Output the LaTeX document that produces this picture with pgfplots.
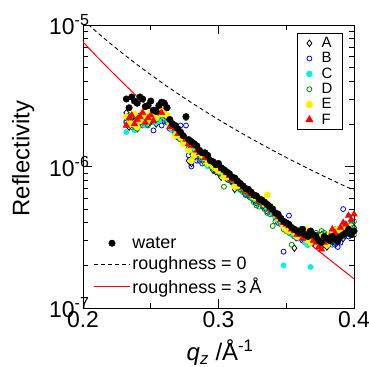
\documentclass[border=0pt]{standalone}
\usepackage{fontspec}
\setmainfont{Liberation Sans}
\usepackage{pgfplots}
\usepackage{pgfplotstable}
\pgfplotsset{compat=1.18}
\definecolor{cyanc}{RGB}{0,240,240}
\definecolor{greenc}{RGB}{0,140,0}
\definecolor{yellowc}{RGB}{255,240,0}
\definecolor{bluec}{RGB}{0,0,255}
\definecolor{redc}{RGB}{255,0,0}

\pgfplotstableread{
q W A B C D E F
0.232 30e-7 24e-7 20.5e-7 17.5e-7 21e-7 22.5e-7 19.5e-7
0.234 26e-7 19e-7 22.5e-7 20.5e-7 23e-7 20e-7 22e-7
0.236 31e-7 22e-7 21e-7 20e-7 19e-7 20e-7 23e-7
0.238 29e-7 23e-7 19e-7 18e-7 21.5e-7 23.5e-7 20e-7
0.240 28e-7 18.5e-7 22e-7 21e-7 18.5e-7 19e-7 21.5e-7
0.242 31e-7 20.5e-7 23e-7 22e-7 19.5e-7 21e-7 22.5e-7
0.244 30e-7 21e-7 19.5e-7 23e-7 21e-7 24e-7 24e-7
0.246 26.5e-7 22.5e-7 20e-7 19.5e-7 22e-7 22.5e-7 20.5e-7
0.248 27e-7 20e-7 22e-7 21.5e-7 19.5e-7 21e-7 22e-7
0.250 29e-7 21e-7 21.5e-7 23e-7 20.5e-7 24e-7 23e-7
0.252 25e-7 23.5e-7 18e-7 22e-7 24e-7 23e-7 21e-7
0.254 24.5e-7 20e-7 23e-7 20.5e-7 21.5e-7 22e-7 25e-7
0.256 27e-7 22e-7 24e-7 21e-7 22.5e-7 25e-7 27e-7
0.258 28.5e-7 23e-7 19.5e-7 22.5e-7 24.5e-7 23.5e-7 24e-7
0.260 28e-7 24e-7 21e-7 24e-7 23e-7 25.5e-7 28e-7
0.262 26e-7 22e-7 20.5e-7 21e-7 21e-7 23e-7 26.5e-7
0.264 21.5e-7 20e-7 18.5e-7 19e-7 20.5e-7 20e-7 19e-7
0.266 20e-7 18.5e-7 19.5e-7 18e-7 19e-7 19e-7 20.5e-7
0.268 19.5e-7 17.5e-7 17e-7 18e-7 17.5e-7 16.5e-7 18.5e-7
0.270 18.5e-7 16.5e-7 16e-7 17.5e-7 16.5e-7 17.5e-7 17e-7
0.272 17.5e-7 16e-7 19.5e-7 16.5e-7 15.5e-7 16e-7 17e-7
0.274 16.5e-7 15.5e-7 15e-7 15e-7 16e-7 14.5e-7 16.5e-7
0.276 22.5e-7 15e-7 19.5e-7 15.5e-7 22e-7 22.5e-7 15.5e-7
0.278 15.5e-7 11e-7 12e-7 14e-7 13.5e-7 13e-7 14.5e-7
0.280 15e-7 10.5e-7 10e-7 13e-7 12.5e-7 11e-7 14e-7
0.282 14.5e-7 13e-7 11.5e-7 12.5e-7 12e-7 12e-7 14e-7
0.284 14e-7 12.5e-7 11e-7 12e-7 12e-7 13e-7 13e-7
0.286 13e-7 12e-7 11e-7 12e-7 11.5e-7 12.5e-7 12.5e-7
0.288 12.5e-7 11.5e-7 10.5e-7 11.5e-7 11e-7 12e-7 12.5e-7
0.290 12.5e-7 11e-7 11.5e-7 11e-7 10.5e-7 11.5e-7 11.5e-7
0.292 12e-7 10.5e-7 11e-7 10e-7 11.5e-7 10.5e-7 11.5e-7
0.294 11e-7 10.5e-7 10e-7 10.5e-7 10.2e-7 10.8e-7 11.2e-7
0.296 10.8e-7 9.4e-7 9.8e-7 10.5e-7 9.5e-7 10e-7 10.8e-7
0.298 10.3e-7 9.2e-7 9.5e-7 9.8e-7 9.6e-7 9.7e-7 10.5e-7
0.300 10.5e-7 9e-7 9.2e-7 9.5e-7 9.6e-7 9.3e-7 10.2e-7
0.302 9.8e-7 8.4e-7 9.1e-7 8.8e-7 8.9e-7 9.4e-7 9.6e-7
0.304 9.5e-7 8.5e-7 8.6e-7 9e-7 7.2e-7 8.4e-7 9.4e-7
0.306 9.2e-7 8.2e-7 8.5e-7 8.7e-7 8.3e-7 8.4e-7 9e-7
0.308 8.9e-7 8.2e-7 8e-7 8.5e-7 8e-7 8.4e-7 8.6e-7
0.310 8.4e-7 7.9e-7 7.8e-7 8.1e-7 7.7e-7 8.3e-7 8.2e-7
0.312 8.3e-7 6.9e-7 7.5e-7 7.8e-7 7.4e-7 7.2e-7 8e-7
0.314 7.9e-7 7.4e-7 7.2e-7 7.6e-7 7.1e-7 7.3e-7 7.8e-7
0.316 7.6e-7 7e-7 7.2e-7 6.8e-7 6.9e-7 7.4e-7 7.5e-7
0.318 7.3e-7 6.8e-7 7e-7 7.1e-7 6.6e-7 7.2e-7 7.1e-7
0.320 7e-7 6.6e-7 6.3e-7 6.5e-7 6.4e-7 6.9e-7 6.8e-7
0.322 6.9e-7 6.2e-7 6.5e-7 6.4e-7 6.3e-7 6.8e-7 6.6e-7
0.324 6.6e-7 6.1e-7 6.4e-7 6e-7 6e-7 6.5e-7 6.4e-7
0.326 6.3e-7 5.8e-7 6e-7 5.9e-7 5.6e-7 6.1e-7 6.2e-7
0.328 6.2e-7 5.7e-7 5.5e-7 5.8e-7 5.3e-7 6e-7 6.1e-7
0.330 5.9e-7 5.6e-7 5.5e-7 5.4e-7 5.2e-7 5.9e-7 5.7e-7
0.332 5.8e-7 5.3e-7 5.4e-7 5.6e-7 5.5e-7 5.9e-7 5.6e-7
0.334 5.6e-7 5.2e-7 5.1e-7 5.3e-7 5e-7 5.4e-7 5.5e-7
0.336 5.4e-7 5.2e-7 4.8e-7 5e-7 4.7e-7 6.3e-7 5.3e-7
0.338 5.2e-7 4.8e-7 4.9e-7 4.8e-7 4.6e-7 5.3e-7 5e-7
0.340 5e-7 4.7e-7 4.9e-7 4.6e-7 3.8e-7 5e-7 4.9e-7
0.342 4.7e-7 4.4e-7 4.5e-7 4.3e-7 4.1e-7 4.6e-7 4.6e-7
0.344 4.6e-7 4.5e-7 4e-7 4.2e-7 4.3e-7 4.3e-7 4.4e-7
0.346 4.3e-7 4.1e-7 4.2e-7 4e-7 3.9e-7 4.2e-7 4.2e-7
0.348 4.1e-7 3.8e-7 2.5e-7 2e-7 3.6e-7 3.8e-7 4e-7
0.350 4e-7 3.7e-7 3.6e-7 3.8e-7 3.5e-7 3.6e-7 3.9e-7
0.352 3.9e-7 3.5e-7 4.5e-7 3.6e-7 3.4e-7 3.5e-7 3.8e-7
0.354 3.7e-7 3.4e-7 3.5e-7 3.3e-7 2.8e-7 3.6e-7 3.6e-7
0.356 3.6e-7 2.65e-7 3.3e-7 3.4e-7 3.2e-7 3.4e-7 3.5e-7
0.358 3.5e-7 3.3e-7 3.1e-7 3.2e-7 3.4e-7 3.2e-7 3.3e-7
0.360 3.4e-7 3.2e-7 3.5e-7 3.1e-7 3.6e-7 3.3e-7 3.3e-7
0.362 3.6e-7 3.1e-7 3e-7 3.3e-7 3.2e-7 3.5e-7 3.1e-7
0.364 3.3e-7 3.4e-7 2.9e-7 2.9e-7 3.3e-7 3.6e-7 3.2e-7
0.366 3.2e-7 3.2e-7 2.8e-7 2.8e-7 3.1e-7 3e-7 3.4e-7
0.368 3.5e-7 3.1e-7 3.2e-7 1.95e-7 3e-7 2.9e-7 3.3e-7
0.370 3.3e-7 2.9e-7 3.1e-7 3e-7 3.2e-7 3.3e-7 3e-7
0.372 3.2e-7 3e-7 3.3e-7 2.9e-7 3.4e-7 3.1e-7 2.9e-7
0.374 3e-7 3.1e-7 3.2e-7 3.1e-7 3.3e-7 2.8e-7 2.7e-7
0.376 2.9e-7 3.3e-7 3e-7 3.2e-7 3.5e-7 3.2e-7 2.6e-7
0.378 3.2e-7 2.8e-7 2.9e-7 3.3e-7 3.4e-7 3.1e-7 2.9e-7
0.380 3.1e-7 2.7e-7 3.1e-7 3.3e-7 3.3e-7 2.8e-7 3e-7
0.382 3e-7 3.2e-7 3e-7 3.2e-7 3.1e-7 3.3e-7 3.2e-7
0.384 3.2e-7 3e-7 2.9e-7 3.4e-7 2.8e-7 3.3e-7 3.6e-7
0.386 3.1e-7 2.9e-7 2.8e-7 3.4e-7 3.6e-7 3.5e-7 3.4e-7
0.388 2.95e-7 3.3e-7 2.7e-7 3.5e-7 3.4e-7 3.6e-7 3.1e-7
0.390 3.2e-7 3.2e-7 2.9e-7 3.3e-7 3.5e-7 3.4e-7 3.7e-7
0.392 3.3e-7 3.1e-7 5e-7 3.7e-7 3.2e-7 3.4e-7 4e-7
0.394 3.4e-7 3.3e-7 3.5e-7 3.9e-7 3.6e-7 3.6e-7 3.9e-7
0.396 3.6e-7 3.4e-7 3.2e-7 4.5e-7 3.5e-7 3.7e-7 4.5e-7
0.398 3.3e-7 3.6e-7 3.4e-7 4.1e-7 3.9e-7 3.5e-7 4.2e-7
0.400 3.5e-7 3.7e-7 3.3e-7 3.6e-7 4.1e-7 3.4e-7 4.6e-7
}\datatable

\pgfplotstableread{
q R0 R3
0.20 10.87e-6 7.583e-6
0.21 8.942e-6 6.013e-6
0.22 7.423e-6 4.802e-6
0.23 6.214e-6 3.860e-6
0.24 5.241e-6 3.121e-6
0.25 4.452e-6 2.537e-6
0.26 3.805e-6 2.071e-6
0.27 3.272e-6 1.698e-6
0.28 2.829e-6 1.397e-6
0.29 2.459e-6 1.153e-6
0.30 2.147e-6 9.551e-7
0.31 1.883e-6 7.929e-7
0.32 1.658e-6 6.597e-7
0.33 1.466e-6 5.501e-7
0.34 1.301e-6 4.597e-7
0.35 1.159e-6 3.848e-7
0.36 1.035e-6 3.224e-7
0.37 9.279e-7 2.706e-7
0.38 8.340e-7 2.274e-7
0.39 7.517e-7 1.912e-7
0.40 6.793e-7 1.609e-7
}\curvetable

\begin{document}
\begin{tikzpicture}
\begin{axis}[name=ax, scale only axis, width=271bp, height=283bp,
  xmin=0.2, xmax=0.4, ymode=log, ymin=1e-7, ymax=1e-5,
  xtick={0.2,0.3,0.4}, xticklabels={0.2,0.3,0.4}, minor xtick={0.25,0.35},
  ytick={1e-7,1e-6,1e-5},
  yticklabels={10\textsuperscript{-7},10\textsuperscript{-6},10\textsuperscript{-5}},
  minor ytick={2e-7,3e-7,4e-7,5e-7,6e-7,7e-7,8e-7,9e-7,2e-6,3e-6,4e-6,5e-6,6e-6,7e-6,8e-6,9e-6},
  tick align=inside, major tick length=9bp, minor tick length=5bp,
  every tick/.append style={black, line width=0.8pt},
  axis line style={line width=1pt},
  ticklabel style={font=\fontsize{23}{23}\selectfont},
  yticklabel style={xshift=10bp},
  xlabel={{\itshape q}\textsubscript{\itshape z} /Å\textsuperscript{-1}},
  ylabel={Reflectivity},
  xlabel style={font=\fontsize{24}{24}\selectfont, at={(axis description cs:0.506,-0.187)}, anchor=base},
  ylabel style={font=\fontsize{24}{24}\selectfont, at={(axis description cs:-0.221,0.528)}, anchor=center},
  legend style={at={(0.959,0.972)}, anchor=north east, draw=black, line width=1pt,
    font=\fontsize{15}{15}\selectfont, row sep=1.5pt, inner xsep=9pt, inner ysep=3pt,
    nodes={inner sep=1pt},
    /tikz/every odd column/.append style={column sep=8pt}},
  legend cell align=left,
]
\addplot[black, dash pattern=on 4pt off 3pt, line width=0.9pt, forget plot] table[x=q,y=R0] {\curvetable};
\addplot[redc, line width=1pt, forget plot] table[x=q,y=R3] {\curvetable};
\addplot[only marks, mark=diamond, mark size=3.3pt, mark options={draw=black, line width=0.8pt}] table[x=q,y=A] {\datatable};
\addplot[only marks, mark=o, mark size=2.5pt, mark options={draw=bluec, line width=0.8pt}] table[x=q,y=B] {\datatable};
\addplot[only marks, mark=*, mark size=2.7pt, mark options={draw=cyanc, fill=cyanc}] table[x=q,y=C] {\datatable};
\addplot[only marks, mark=o, mark size=2.5pt, mark options={draw=greenc, line width=0.8pt}] table[x=q,y=D] {\datatable};
\addplot[only marks, mark=*, mark size=3.2pt, mark options={draw=yellowc, fill=yellowc}] table[x=q,y=E] {\datatable};
\addplot[only marks, mark=triangle*, mark size=3.8pt, mark options={draw=redc, fill=redc}] table[x=q,y=F] {\datatable};
\addplot[only marks, mark=*, mark size=3.3pt, mark options={draw=black, fill=black}] table[x=q,y=W] {\datatable};
\legend{A,B,C,D,E,F}
\end{axis}
\begin{axis}[scale only axis, width=271bp, height=283bp, hide axis,
  xmin=0, xmax=1, ymin=0, ymax=1,
  legend style={at={(0.027,0.03)}, anchor=south west, draw=none, fill=none,
    font=\fontsize{18}{18}\selectfont, row sep=3pt},
  legend cell align=left,
  legend image code/.code={\draw[mark repeat=2,mark phase=2,#1] plot coordinates {(0cm,0cm) (0.635cm,0cm) (1.27cm,0cm)};},
]
\addlegendimage{only marks, mark=*, mark size=3.3pt, black}
\addlegendentry{water}
\addlegendimage{black, dash pattern=on 4pt off 3pt, line width=0.9pt}
\addlegendentry{roughness = 0}
\addlegendimage{redc, line width=1pt}
\addlegendentry{roughness = 3\,Å}
\end{axis}
\pgfresetboundingbox
\path ([xshift=-83bp,yshift=-59bp]ax.south west) rectangle ([xshift=15bp,yshift=25bp]ax.north east);
\end{tikzpicture}
\end{document}
